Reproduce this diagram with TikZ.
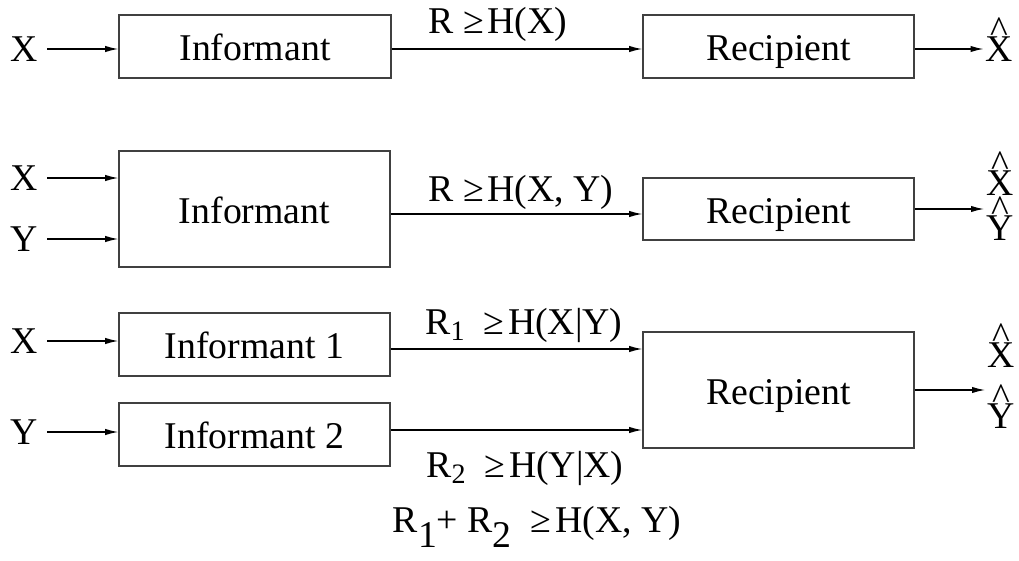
\documentclass[tikz,border=0pt]{standalone}
\usepackage{fontspec}
\setmainfont{Liberation Serif}
\usetikzlibrary{arrows.meta}
\usetikzlibrary{positioning}
\newcommand{\rsub}[1]{\raisebox{-0.18em}{\fontsize{16}{16}\selectfont #1}}
\newcommand{\rlow}[1]{\raisebox{-0.42em}{#1}}
\newcommand{\estim}[1]{\ooalign{#1\cr\hidewidth\raisebox{0.48em}{\textasciicircum}\hidewidth\cr}}
\tikzset{arr/.style = {-{Latex[length=7.5pt, width=3.6pt]}, line width=0.8pt}}
\tikzset{blk/.style = {draw=black!75, line width=0.7pt, inner sep=0,
                       text height=16.3pt, text depth=0pt}}
\tikzset{lbl/.style = {anchor=base, inner sep=0}}
\tikzset{src/.style = {inner sep=5pt}}
\tikzset{est/.style = {anchor=base, inner xsep=1pt, inner ysep=0}}

\begin{document}
\begin{tikzpicture}[x=0.02cm, y=-0.02cm, font=\fontsize{21.5}{26}\selectfont]
      \useasboundingbox (0, 0) rectangle (1019, 561);

      % lossless coding of one source
      \node (x1) at (24.5, 49) [src] {X};
      \node (inf1) at (255, 46.5) [blk, minimum width=5.44cm, minimum height=1.26cm] {Informant};
      \node (rec1) at (778.5, 46.5) [blk, minimum width=5.42cm, minimum height=1.26cm] {Recipient};
      \node (xh1) at (999.5, 61) [est] {\estim{X}};
      \node (l1) at (498, 33) [lbl] {R ≥\hspace{.1em}H(X)};

      \draw [arr] (x1) -- (x1 -| inf1.west);
      \draw [arr] (inf1.east |- x1) -- (rec1.west |- x1);
      \draw [arr] (rec1.east |- x1) -- (x1 -| xh1.west);

      % joint coding
      \node (x2) at (24.5, 178) [src] {X};
      \node (y2) at (24.5, 239) [src] {Y};
      \node (inf2) at (254.5, 209) [blk, minimum width=5.42cm, minimum height=2.32cm] {Informant};
      \node (rec2) at (778.5, 209) [blk, minimum width=5.42cm, minimum height=1.24cm] {Recipient};
      \node (xh2) at (1000, 195) [est] {\estim{X}};
      \node (yh2) at (1000, 240) [est] {\estim{Y}};
      \node (l2) at (521, 201) [lbl] {R ≥\hspace{.1em}H(X, Y)};

      \draw [arr] (x2) -- (x2 -| inf2.west);
      \draw [arr] (y2) -- (y2 -| inf2.west);
      \draw [arr] ([yshift=-0.1cm]inf2.east) -- ([yshift=-0.1cm]rec2.west);
      \draw [arr] (rec2) -- (rec2 -| xh2.west);

      % separate coding (Slepian-Wolf)
      \node (x3) at (24.5, 341) [src] {X};
      \node (y3) at (24.5, 432) [src] {Y};
      \node (inf31) at (254.5, 344.5) [blk, minimum width=5.42cm, minimum height=1.26cm] {Informant 1};
      \node (inf32) at (254.5, 434.5) [blk, minimum width=5.42cm, minimum height=1.26cm] {Informant 2};
      \node (rec3) at (778.5, 390) [blk, minimum width=5.42cm, minimum height=2.32cm] {Recipient};
      \node (xh3) at (1001, 367) [est] {\estim{X}};
      \node (yh3) at (1001, 428) [est] {\estim{Y}};
      \node (l3) at (524, 334) [lbl] {R\rsub{1}\ \ ≥\hspace{.1em}H(X|Y)};
      \node (l4) at (525, 477) [lbl] {R\rsub{2}\ \ ≥\hspace{.1em}H(Y|X)};
      \node (l5) at (537, 532) [lbl] {R\rlow{1}+ R\rlow{2}\ \ ≥\hspace{.1em}H(X, Y)};

      \draw [arr] (x3) -- (x3 -| inf31.west);
      \draw [arr] (y3) -- (y3 -| inf32.west);
      \draw [arr] ([yshift=-0.09cm]inf31.east) -- ([yshift=-0.09cm]inf31.east -| rec3.west);
      \draw [arr] ([yshift=0.09cm]inf32.east) -- ([yshift=0.09cm]inf32.east -| rec3.west);
      \draw [arr] (rec3) -- (rec3 -| xh3.west);
    \end{tikzpicture}
\end{document}
